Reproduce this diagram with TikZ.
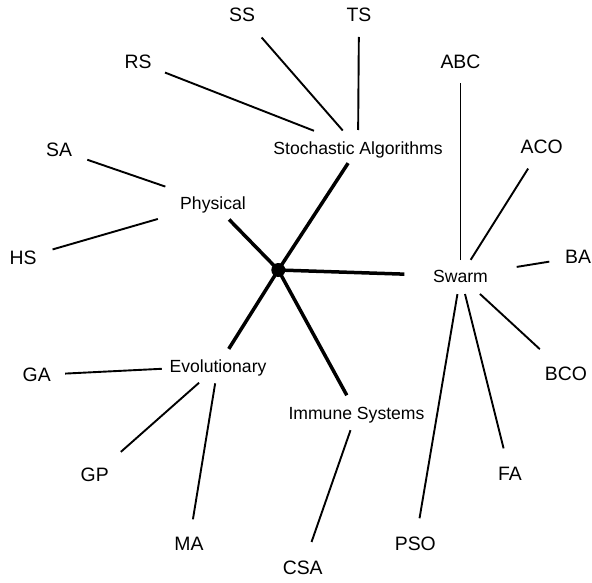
\documentclass[tikz,border=0pt]{standalone}
\usepackage{fontspec}
\setmainfont{Liberation Sans}
\begin{document}
\begin{tikzpicture}[x=1pt,y=-1pt,
  leaf/.style={font=\fontsize{19.4}{22}\selectfont, inner sep=0pt, text height=13.9pt, text depth=0pt},
  cat/.style={font=\fontsize{17.6}{20}\selectfont, inner sep=0pt, text height=12.6pt, text depth=0pt},
  thinline/.style={line width=1.9pt},
  thickline/.style={line width=3.5pt},
  hubdot/.style={circle, fill=black, inner sep=0pt, minimum size=14pt}]
\useasboundingbox (0,0) rectangle (592,583);
% hub and categories
\node[hubdot] (hub) at (278.3,270) {};
\node[cat] (stoch) at (358,148) {Stochastic Algorithms};
\node[cat] (phys) at (213,203) {Physical};
\node[cat] (swarm) at (460.5,276) {Swarm};
\node[cat] (evol) at (218,366) {Evolutionary};
\node[cat] (imm) at (356.5,413) {Immune Systems};
% leaves
\node[leaf] (ss) at (242,15) {SS};
\node[leaf] (ts) at (359,15) {TS};
\node[leaf] (rs) at (138,62) {RS};
\node[leaf] (sa) at (59,150) {SA};
\node[leaf] (hs) at (23,258) {HS};
\node[leaf] (abc) at (460.5,62) {ABC};
\node[leaf] (aco) at (541.7,147) {ACO};
\node[leaf] (ba) at (578,257) {BA};
\node[leaf] (bco) at (566,373.3) {BCO};
\node[leaf] (fa) at (510,474) {FA};
\node[leaf] (pso) at (415.3,543.3) {PSO};
\node[leaf] (ga) at (36.7,375) {GA};
\node[leaf] (gp) at (94.7,475) {GP};
\node[leaf] (ma) at (189,543.3) {MA};
\node[leaf] (csa) at (302.7,567.3) {CSA};
% thick connectors
\draw[thickline, shorten >=18.1pt] (hub.center) -- (stoch.center);
\draw[thickline, shorten >=23pt] (hub.center) -- (phys.center);
\draw[thickline, shorten >=56.2pt] (hub.center) -- (swarm.center);
\draw[thickline, shorten >=20.2pt] (hub.center) -- (evol.center);
\draw[thickline, shorten >=20.2pt] (hub.center) -- (imm.center);
% thin connectors
\draw[thinline, shorten <=23.2pt, shorten >=29.8pt] (stoch.center) -- (ss.center);
\draw[thinline, shorten <=18pt, shorten >=22pt] (stoch.center) -- (ts.center);
\draw[thinline, shorten <=47.3pt, shorten >=29pt] (stoch.center) -- (rs.center);
\draw[thinline, shorten <=50.4pt, shorten >=29.9pt] (phys.center) -- (sa.center);
\draw[thinline, shorten <=57.4pt, shorten >=30.8pt] (phys.center) -- (hs.center);
\draw[thinline, shorten <=16pt, shorten >=20.7pt] (swarm.center) -- (abc.center);
\draw[thinline, shorten <=19.1pt, shorten >=25.5pt] (swarm.center) -- (aco.center);
\draw[thinline, shorten <=56.9pt, shorten >=29.1pt] (swarm.center) -- (ba.center);
\draw[thinline, shorten <=26.5pt, shorten >=35.6pt] (swarm.center) -- (bco.center);
\draw[thinline, shorten <=18.6pt, shorten >=26.4pt] (swarm.center) -- (fa.center);
\draw[thinline, shorten <=18.4pt, shorten >=25.4pt] (swarm.center) -- (pso.center);
\draw[thinline, shorten <=56.3pt, shorten >=28.4pt] (evol.center) -- (ga.center);
\draw[thinline, shorten <=25.3pt, shorten >=34.9pt] (evol.center) -- (gp.center);
\draw[thinline, shorten <=17.6pt, shorten >=24.3pt] (evol.center) -- (ma.center);
\draw[thinline, shorten <=18.2pt, shorten >=26.8pt] (imm.center) -- (csa.center);
\end{tikzpicture}
\end{document}
